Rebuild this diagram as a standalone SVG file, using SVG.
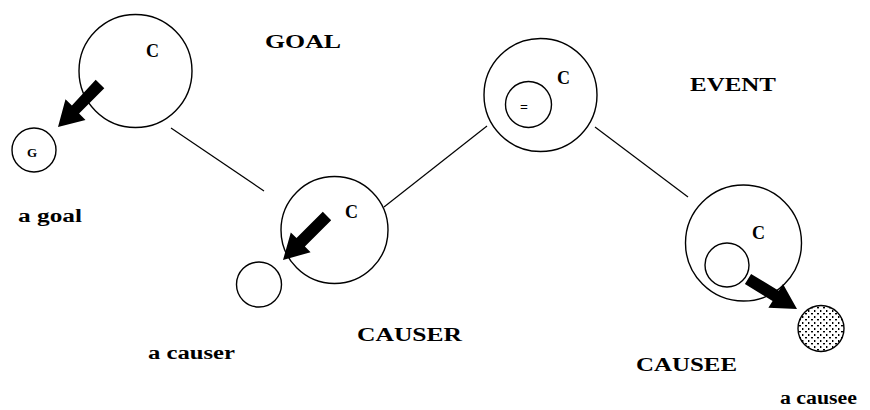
<svg xmlns="http://www.w3.org/2000/svg" width="870" height="410" viewBox="0 0 870 410">
<style>
.c{fill:none;stroke:#000;stroke-width:1.4}
.ln{stroke:#000;stroke-width:1.2;fill:none}
.ar{fill:#000;stroke:none}
.t{font-family:"Liberation Serif","Times New Roman",serif;font-weight:bold;fill:#000}
.big{font-size:18px}
.sm{font-size:18px}
.cl{font-size:18px}
</style>
<defs>
<pattern id="dots" width="6" height="6" patternUnits="userSpaceOnUse">
<rect x="1" y="1" width="2" height="1.4" fill="#000"/>
<rect x="4" y="4" width="1.4" height="2" fill="#000"/>
</pattern>
</defs>
<rect width="870" height="410" fill="#fff"/>
<g id="connectors">
<line class="ln" x1="171" y1="128" x2="264" y2="191"/>
<line class="ln" x1="384" y1="207" x2="487" y2="126"/>
<line class="ln" x1="595" y1="127" x2="688" y2="197"/>
</g>
<g id="goal">
<circle class="c" cx="135.5" cy="71" r="56.5"/>
<text class="t cl" x="146" y="57">C</text>
<text class="t big" x="265" y="48" textLength="76" lengthAdjust="spacingAndGlyphs">GOAL</text>
</g>
<g id="a-goal">
<circle class="c" cx="34" cy="150" r="22"/>
<text class="t" x="27" y="157" font-size="13">G</text>
<text class="t sm" x="18" y="222" textLength="64" lengthAdjust="spacingAndGlyphs">a goal</text>
<polygon class="ar" points="104.3,88.2 79.1,113.6 85.5,119.9 58,127 65.5,99.3 71.9,105.6 95.7,79.8"/>
</g>
<g id="causer">
<circle class="c" cx="334.5" cy="230" r="53.5"/>
<text class="t cl" x="345" y="218">C</text>
<text class="t big" x="357" y="341" textLength="105" lengthAdjust="spacingAndGlyphs">CAUSER</text>
</g>
<g id="a-causer">
<circle class="c" cx="259" cy="284.5" r="22.5"/>
<text class="t sm" x="148" y="359" textLength="87" lengthAdjust="spacingAndGlyphs">a causer</text>
<polygon class="ar" points="331.2,220.2 304.9,246.5 310.6,252.2 283,260 290.8,232.4 296.5,238.1 322.8,211.8"/>
</g>
<g id="event">
<circle class="c" cx="540.5" cy="95" r="56.5"/>
<circle class="c" cx="528.5" cy="104.5" r="23"/>
<text class="t" x="520" y="112" font-size="14">=</text>
<text class="t cl" x="557" y="84">C</text>
<text class="t big" x="690" y="91" textLength="86" lengthAdjust="spacingAndGlyphs">EVENT</text>
</g>
<g id="causee">
<circle class="c" cx="743.5" cy="243" r="58"/>
<circle class="c" cx="727" cy="265" r="22"/>
<text class="t cl" x="752" y="239">C</text>
<text class="t big" x="636" y="371" textLength="101" lengthAdjust="spacingAndGlyphs">CAUSEE</text>
</g>
<g id="a-causee">
<circle cx="821" cy="328.5" r="23" fill="url(#dots)" stroke="#000" stroke-width="1.4"/>
<text class="t sm" x="780" y="404" textLength="77" lengthAdjust="spacingAndGlyphs">a causee</text>
<polygon class="ar" points="744.9,284.1 772.6,301 768.4,307.8 797,309 783,284 778.8,290.8 751.1,273.9"/>
</g>
</svg>
